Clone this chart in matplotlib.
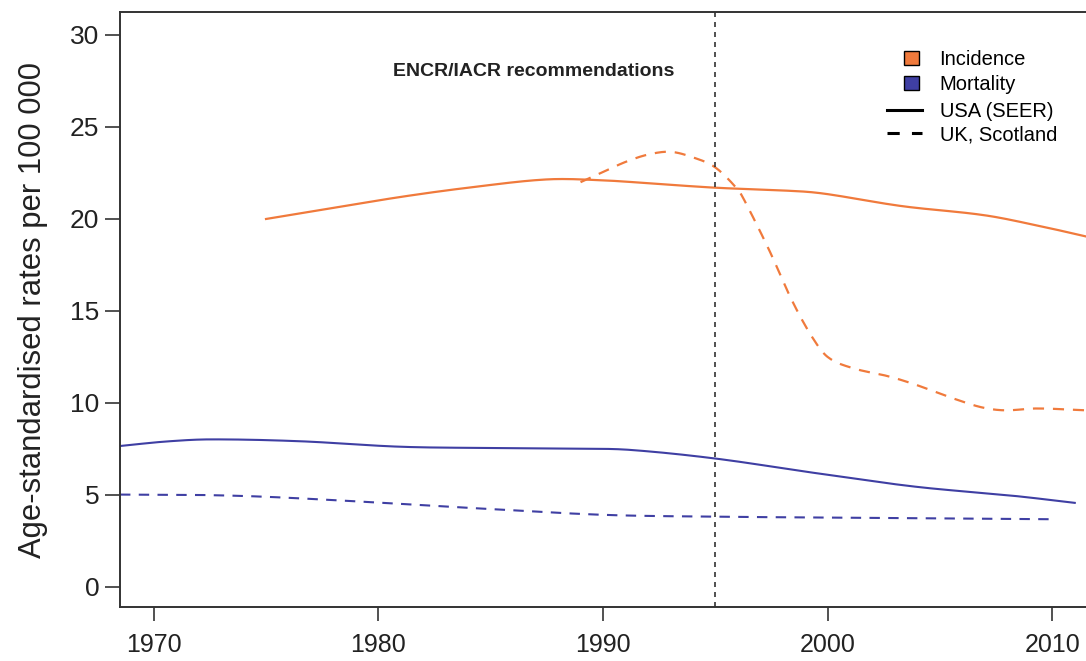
import matplotlib
matplotlib.use("Agg")
import matplotlib.pyplot as plt
from matplotlib.patches import Patch
from matplotlib.lines import Line2D
import numpy as np

plt.rcParams['font.family'] = ['Liberation Sans', 'DejaVu Sans']

# dados
anos_inc_usa = [1975, 1978, 1981, 1984, 1987.5, 1990, 1992.5, 1995, 1998.8, 2000, 2003.3, 2007, 2009.5, 2011.5]
inc_usa = [20.0, 20.6, 21.2, 21.7, 22.15, 22.1, 21.9, 21.7, 21.5, 21.35, 20.7, 20.2, 19.6, 19.05]

anos_inc_uk = [1989, 1990, 1991, 1992, 1993, 1994, 1995, 1996, 1996.3, 1997.4, 1998.4, 1999.3, 2000, 2001.1,
               2002.7, 2003.9, 2005.7, 2006.9, 2007.9, 2009.3, 2011.5]
inc_uk = [22.0, 22.55, 23.1, 23.5, 23.65, 23.35, 22.8, 21.6, 21.0, 18.3, 15.6, 13.6, 12.5, 11.9,
          11.45, 11.0, 10.2, 9.75, 9.6, 9.7, 9.6]

anos_mort_usa = [1968.5, 1970.5, 1972.5, 1976.5, 1981, 1985.4, 1989, 1991.2, 1995, 1999.4, 2003.9, 2008.3, 2011]
mort_usa = [7.66, 7.9, 8.02, 7.92, 7.62, 7.55, 7.52, 7.45, 6.98, 6.2, 5.45, 4.95, 4.57]

anos_mort_uk = [1968.5, 1972, 1975, 1979.5, 1984, 1990, 1995, 2002.4, 2010]
mort_uk = [5.02, 5.0, 4.9, 4.62, 4.3, 3.92, 3.82, 3.75, 3.68]

laranja = '#F07A3C'
azul = '#3F3FA3'
cinza = '#333333'


def suave(x, y, n=300):
    # interpolação cúbica de Hermite entre os pontos lidos
    xs = np.linspace(x[0], x[-1], n)
    x = np.asarray(x, float)
    y = np.asarray(y, float)
    ys = np.empty_like(xs)
    for k, xv in enumerate(xs):
        i = min(np.searchsorted(x, xv, side='right') - 1, len(x) - 2)
        i = max(i, 0)
        x0, x1 = x[i], x[i + 1]
        y0, y1 = y[i], y[i + 1]
        m0 = (y1 - y[i - 1]) / (x1 - x[i - 1]) if i > 0 else (y1 - y0) / (x1 - x0)
        m1 = (y[i + 2] - y0) / (x[i + 2] - x0) if i + 2 < len(x) else (y1 - y0) / (x1 - x0)
        h = x1 - x0
        t = (xv - x0) / h
        h00 = 2 * t**3 - 3 * t**2 + 1
        h10 = t**3 - 2 * t**2 + t
        h01 = -2 * t**3 + 3 * t**2
        h11 = t**3 - t**2
        ys[k] = h00 * y0 + h10 * h * m0 + h01 * y1 + h11 * h * m1
    return xs, ys


fig = plt.figure(figsize=(10.86, 6.61), dpi=100)
ax = fig.add_axes([120 / 1086, 54 / 661, 1 - 120 / 1086, (607 - 12) / 661])

ax.plot(*suave(anos_inc_usa, inc_usa), color=laranja, lw=1.6)
ax.plot(*suave(anos_inc_uk, inc_uk), color=laranja, lw=1.6, linestyle=(0, (5, 4)))
ax.plot(*suave(anos_mort_usa, mort_usa), color=azul, lw=1.5)
ax.plot(*suave(anos_mort_uk, mort_uk), color=azul, lw=1.5, linestyle=(0, (5, 4)))

ax.axvline(1995, color=cinza, lw=1.2, linestyle=(0, (3, 3)))
ax.text(1986.9, 28.0, 'ENCR/IACR recommendations', fontsize=14, fontweight='bold',
        ha='center', va='center', color='#222222')

ax.set_xlim(1968.5, 2011.5)
ax.set_ylim(-1.09, 31.25)
ax.set_xticks([1970, 1980, 1990, 2000, 2010])
ax.set_yticks([0, 5, 10, 15, 20, 25, 30])
ax.tick_params(axis='both', direction='out', length=11, width=1.2, color=cinza,
               labelcolor='#222222')
ax.tick_params(axis='y', labelsize=19, pad=4)
ax.tick_params(axis='x', labelsize=18, pad=9, length=10)
for lado in ['left', 'bottom', 'top']:
    ax.spines[lado].set_color(cinza)
    ax.spines[lado].set_linewidth(1.4)
ax.spines['right'].set_visible(False)
ax.set_ylabel('Age-standardised rates per 100 000', fontsize=22.3, color='#222222', labelpad=16)

h1 = [Patch(facecolor=laranja, edgecolor='black', lw=1.0),
      Patch(facecolor=azul, edgecolor='black', lw=1.0)]
leg1 = ax.legend(h1, ['Incidence', 'Mortality'], loc='upper left', frameon=False,
                 bbox_to_anchor=(904 / 1086, 1 - 50 / 661), bbox_transform=fig.transFigure,
                 handlelength=0.75, handleheight=0.75, handletextpad=1.0, labelspacing=0.3,
                 fontsize=14.5, borderpad=0, borderaxespad=0)
ax.add_artist(leg1)
h2 = [Line2D([], [], color='black', lw=2.2),
      Line2D([], [], color='black', lw=2.2, linestyle=(0, (4, 4)))]
ax.legend(h2, ['USA (SEER)', 'UK, Scotland'], loc='upper left', frameon=False,
          bbox_to_anchor=(887 / 1086, 1 - 102 / 661), bbox_transform=fig.transFigure,
          handlelength=1.75, handletextpad=0.9, labelspacing=0.2,
          fontsize=14.5, borderpad=0, borderaxespad=0)

fig.savefig('out.png', dpi=100)
